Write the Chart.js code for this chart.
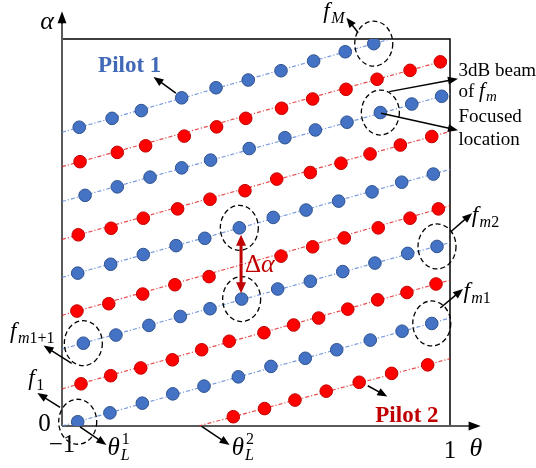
<!DOCTYPE html>
<html>
<head>
<meta charset="utf-8">
<script src="https://cdn.jsdelivr.net/npm/chart.js@4.4.1/dist/chart.umd.min.js"></script>
<style>
  html, body { margin: 0; padding: 0; background: #fff; }
  #wrap { width: 536px; height: 468px; }
</style>
</head>
<body>
<div id="wrap"><canvas id="beamChart" width="536" height="468"></canvas></div>
<script>
// axis ticks that are labelled
const thetaTicks = [-1, 1];
const thetaTickLabels = ['\u22121', '1'];
const alphaTicks = [0];
const alphaTickLabels = ['0'];

// Pilot 1 (blue) beams, bottom to top: theta / alpha of each focused point
const pilot1Theta = [
    [-0.919, -0.753, -0.586, -0.429, -0.268, -0.091, 0.077, 0.254, 0.416, 0.589, 0.753, 0.906],
    [-0.890, -0.722, -0.552, -0.390, -0.237, -0.074, 0.112, 0.280, 0.447, 0.613, 0.782, 0.933],
    [-0.919, -0.749, -0.581, -0.412, -0.264, -0.086, 0.089, 0.258, 0.426, 0.598, 0.751, 0.914],
    [-0.881, -0.715, -0.546, -0.383, -0.234, -0.035, 0.149, 0.306, 0.469, 0.641, 0.803, 0.957],
    [-0.911, -0.742, -0.591, -0.383, -0.206, -0.040, 0.129, 0.297, 0.460, 0.607]
];
const pilot1Alpha = [
    [0.11, 0.34, 0.59, 0.83, 1.03, 1.27, 1.54, 1.75, 1.97, 2.22, 2.45, 2.65],
    [2.14, 2.35, 2.60, 2.83, 3.03, 3.28, 3.54, 3.74, 3.99, 4.21, 4.46, 4.64],
    [3.95, 4.18, 4.43, 4.66, 4.85, 5.12, 5.39, 5.58, 5.81, 6.05, 6.30, 6.51],
    [5.96, 6.18, 6.43, 6.67, 6.87, 7.17, 7.45, 7.65, 7.85, 8.10, 8.32, 8.52],
    [7.72, 7.95, 8.15, 8.48, 8.74, 8.94, 9.18, 9.43, 9.67, 9.88]
];
// [theta start, alpha start, theta end, alpha end] of each dotted trace
const pilot1Lines = [
    [-1, 0, 1, 2.79],
    [-1, 1.99, 1, 4.74],
    [-1, 3.84, 1, 6.63],
    [-1, 5.80, 1, 8.58],
    [-1, 7.59, 0.692, 10]
];

// Pilot 2 (red) beams, bottom to top
const pilot2Theta = [
    [-0.117, 0.044, 0.201, 0.362, 0.532, 0.699, 0.885],
    [-0.902, -0.749, -0.594, -0.431, -0.280, -0.138, 0.041, 0.194, 0.323, 0.473, 0.627, 0.778, 0.928],
    [-0.923, -0.759, -0.584, -0.418, -0.242, 0.129, 0.292, 0.455, 0.630, 0.794, 0.940],
    [-0.916, -0.747, -0.581, -0.404, -0.237, -0.057, 0.107, 0.280, 0.438, 0.588, 0.744, 0.906],
    [-0.907, -0.715, -0.569, -0.370, -0.203, -0.053, 0.132, 0.292, 0.464, 0.624, 0.794, 0.950]
];
const pilot2Alpha = [
    [0.24, 0.45, 0.67, 0.90, 1.13, 1.36, 1.58],
    [1.09, 1.30, 1.50, 1.71, 1.97, 2.19, 2.41, 2.61, 2.79, 3.02, 3.26, 3.45, 3.67],
    [2.97, 3.16, 3.41, 3.65, 3.86, 4.39, 4.63, 4.86, 5.12, 5.37, 5.61],
    [4.94, 5.11, 5.37, 5.61, 5.86, 6.08, 6.38, 6.55, 6.79, 7.03, 7.26, 7.48],
    [6.83, 7.07, 7.24, 7.49, 7.73, 7.95, 8.21, 8.45, 8.70, 8.96, 9.19, 9.41]
];
const pilot2Lines = [
    [-0.296, 0, 1, 1.74],
    [-1, 0.96, 1, 3.77],
    [-1, 2.86, 1, 5.69],
    [-1, 4.82, 1, 7.61],
    [-1, 6.70, 1, 9.48]
];

// pilot 1 points wrapped in a dashed 3dB circle: [beam, point]
const circledPoints = [[0, 0], [1, 0], [1, 5], [2, 5], [0, 11], [1, 11], [3, 9], [4, 9]];

const BLUE = '#4472C4';
const RED = '#FF0000';
const DARKRED = '#C00000';
const SERIF = '"Liberation Serif", "Times New Roman", serif';

function pointSets(thetas, alphas, fill, border) {
    return thetas.map((row, i) => ({
        data: row.map((t, j) => ({ x: t, y: alphas[i][j] })),
        showLine: false,
        pointRadius: 6.3,
        pointBackgroundColor: fill,
        pointBorderColor: border,
        pointBorderWidth: 1,
        order: 1
    }));
}

function lineSets(lines, color) {
    return lines.map(l => ({
        data: [{ x: l[0], y: l[1] }, { x: l[2], y: l[3] }],
        showLine: true,
        pointRadius: 0,
        borderColor: color,
        borderWidth: 1.2,
        borderDash: [4, 2, 1.2, 2],
        order: 2
    }));
}

const datasets = [
    ...pointSets(pilot1Theta, pilot1Alpha, BLUE, '#2F528F'),
    ...pointSets(pilot2Theta, pilot2Alpha, RED, '#C00000'),
    ...lineSets(pilot1Lines, 'rgba(95,135,215,0.85)'),
    ...lineSets(pilot2Lines, 'rgba(225,30,30,0.8)')
];

function arrow(ctx, x1, y1, x2, y2, color, width, headLen, headW) {
    const a = Math.atan2(y2 - y1, x2 - x1);
    ctx.save();
    ctx.strokeStyle = color;
    ctx.fillStyle = color;
    ctx.lineWidth = width;
    ctx.beginPath();
    ctx.moveTo(x1, y1);
    ctx.lineTo(x2 - Math.cos(a) * headLen * 0.8, y2 - Math.sin(a) * headLen * 0.8);
    ctx.stroke();
    ctx.beginPath();
    ctx.moveTo(x2, y2);
    ctx.lineTo(x2 - Math.cos(a) * headLen + Math.sin(a) * headW / 2, y2 - Math.sin(a) * headLen - Math.cos(a) * headW / 2);
    ctx.lineTo(x2 - Math.cos(a) * headLen - Math.sin(a) * headW / 2, y2 - Math.sin(a) * headLen + Math.cos(a) * headW / 2);
    ctx.closePath();
    ctx.fill();
    ctx.restore();
}

// draw a row of text runs: [text, font, dy, extra gap]
function runs(ctx, x, y, parts, color) {
    ctx.save();
    ctx.fillStyle = color || '#000';
    ctx.textBaseline = 'alphabetic';
    ctx.textAlign = 'left';
    parts.forEach(p => {
        ctx.font = p[1];
        ctx.fillText(p[0], x, y + (p[2] || 0));
        x += ctx.measureText(p[0]).width + (p[3] || 0);
    });
    ctx.restore();
}

const sketchPlugin = {
    id: 'sketch',
    beforeDatasetsDraw(chart) {
        const { ctx, chartArea: a } = chart;
        const X = v => chart.scales.x.getPixelForValue(v);
        const Y = v => chart.scales.y.getPixelForValue(v);
        ctx.save();
        // frame top and right
        ctx.strokeStyle = '#000';
        ctx.lineWidth = 1.5;
        ctx.beginPath();
        ctx.moveTo(a.left, a.top);
        ctx.lineTo(a.right, a.top);
        ctx.lineTo(a.right, a.bottom);
        ctx.stroke();
        // axes
        ctx.strokeStyle = '#595959';
        ctx.lineWidth = 2;
        ctx.beginPath();
        ctx.moveTo(a.left, a.bottom);
        ctx.lineTo(a.left, Y(10.55));
        ctx.moveTo(a.left, a.bottom);
        ctx.lineTo(X(1.12), a.bottom);
        ctx.stroke();
        ctx.restore();
        arrow(ctx, a.left, Y(10.4), a.left, Y(10.72), '#000', 2, 12, 9);
        arrow(ctx, X(1.1), a.bottom, X(1.158), a.bottom, '#000', 2, 12, 9);
    },
    afterDatasetsDraw(chart) {
        const { ctx } = chart;
        const X = v => chart.scales.x.getPixelForValue(v);
        const Y = v => chart.scales.y.getPixelForValue(v);

        // dashed 3dB circles
        ctx.save();
        ctx.strokeStyle = '#000';
        ctx.lineWidth = 1.3;
        ctx.setLineDash([5, 3]);
        circledPoints.forEach(([b, p]) => {
            ctx.beginPath();
            ctx.ellipse(X(pilot1Theta[b][p]), Y(pilot1Alpha[b][p]), 19, 22.5, 0, 0, Math.PI * 2);
            ctx.stroke();
        });
        ctx.restore();

        // pointer arrows [theta1, alpha1, theta2, alpha2]
        [
            [-0.413, 8.60, -0.528, 9.02],
            [0.527, 10.16, 0.466, 10.55],
            [0.687, 8.64, 1.041, 8.97],
            [0.645, 8.08, 1.041, 7.64],
            [1.004, 5.02, 1.114, 5.50],
            [0.950, 3.05, 1.067, 3.54],
            [0.576, 1.04, 0.677, 0.76],
            [-0.950, 1.62, -1.095, 2.08],
            [-1.010, 0.48, -1.127, 0.85],
            [-0.907, -0.02, -0.771, -0.49],
            [-0.280, -0.01, -0.136, -0.49]
        ].forEach(r => arrow(ctx, X(r[0]), Y(r[1]), X(r[2]), Y(r[3]), '#000', 1.5, 10, 8));

        // delta alpha double arrow
        const dx = X(-0.077);
        arrow(ctx, dx, Y(4.2), dx, Y(4.94), DARKRED, 3, 11, 10);
        arrow(ctx, dx, Y(4.2), dx, Y(3.43), DARKRED, 3, 11, 10);

        const it = s => 'italic ' + s + 'px ' + SERIF;
        const up = s => s + 'px ' + SERIF;

        // tick labels
        ctx.save();
        ctx.fillStyle = '#000';
        ctx.font = up(25);
        ctx.textAlign = 'center';
        ctx.textBaseline = 'alphabetic';
        ctx.fillText(thetaTickLabels[0], X(thetaTicks[0]), Y(-0.67));
        ctx.fillText(thetaTickLabels[1], X(thetaTicks[1]), Y(-0.82));
        ctx.textAlign = 'right';
        alphaTicks.forEach((v, i) => ctx.fillText(alphaTickLabels[i], X(-1.058), Y(v - 0.12)));
        // axis titles
        ctx.textAlign = 'center';
        ctx.font = it(26);
        ctx.fillText('\u03B1', X(-1.077), Y(10.26));
        ctx.fillText('\u03B8', X(1.134), Y(-0.77));
        ctx.restore();

        // pilot names
        ctx.save();
        ctx.font = 'bold 23px ' + SERIF;
        ctx.fillStyle = '#4169B8';
        ctx.fillText('Pilot 1', X(-0.814), Y(9.16));
        ctx.fillStyle = DARKRED;
        ctx.fillText('Pilot 2', X(0.615), Y(0.11));
        ctx.restore();

        // right-hand notes
        const nx = X(1.044);
        runs(ctx, nx, Y(9.04), [['3dB beam', up(19)]]);
        runs(ctx, nx, Y(8.50), [['of ', up(19)], ['f', it(21), 0, 1], ['m', it(15), 4]]);
        runs(ctx, nx, Y(7.86), [['Focused', up(19)]]);
        runs(ctx, nx, Y(7.26), [['location', up(19)]]);

        // frequency labels: subscript letters italic, digits upright
        const fLab = (t, a, sub) => {
            const parts = [['f', it(23), 0, 1.5]];
            sub.forEach(s => parts.push([s, /[A-Za-z]/.test(s) ? it(16) : up(16), 5]));
            runs(ctx, X(t), Y(a), parts);
        };
        fLab(0.347, 10.54, ['M']);
        fLab(1.112, 5.28, ['m', '2']);
        fLab(1.069, 3.31, ['m', '1']);
        fLab(-1.268, 2.27, ['m', '1+1']);
        fLab(-1.174, 1.06, ['1']);

        // theta_L labels
        const thL = (t, sup) => {
            const x = X(t), y = Y(-0.76);
            runs(ctx, x, y, [['\u03B8', it(25)]]);
            ctx.save();
            ctx.font = it(25);
            const w = ctx.measureText('\u03B8').width;
            ctx.restore();
            runs(ctx, x + w + 1, y + 5, [['L', it(16)]]);
            runs(ctx, x + w + 2, y - 11, [[sup, up(16)]]);
        };
        thL(-0.766, '1');
        thL(-0.125, '2');

        // delta alpha label
        runs(ctx, X(-0.057), Y(3.99), [['\u0394', up(25)], ['\u03B1', it(26)]], DARKRED);
    }
};

new Chart(document.getElementById('beamChart'), {
    type: 'scatter',
    data: { datasets },
    options: {
        responsive: false,
        animation: false,
        layout: { padding: { left: 62, right: 86, top: 39, bottom: 42 } },
        plugins: { legend: { display: false }, tooltip: { enabled: false } },
        scales: {
            x: { type: 'linear', min: -1, max: 1, display: false },
            y: { type: 'linear', min: 0, max: 10, display: false }
        }
    },
    plugins: [sketchPlugin]
});
</script>
</body>
</html>
